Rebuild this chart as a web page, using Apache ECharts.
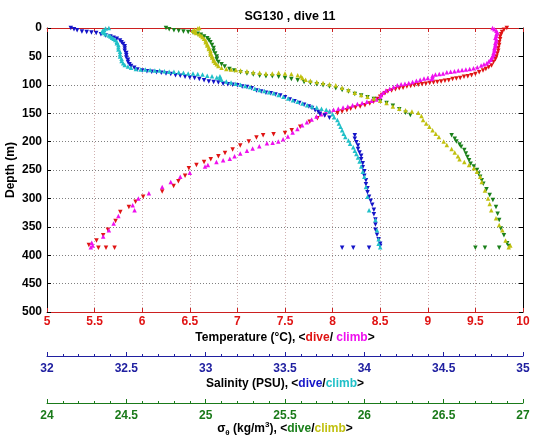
<!DOCTYPE html>
<html><head><meta charset="utf-8">
<script src="https://cdn.jsdelivr.net/npm/echarts@6/dist/echarts.min.js"></script>
<style>html,body{margin:0;padding:0;background:#fff}#c{width:535px;height:442px}</style>
</head><body><div id="c"></div>
<script>
// ---- data: [value, depth(m)] ----
const tempDive = [
[9.83,0],[9.80,3],[9.78,7],[9.77,11],[9.76,15],[9.76,20],[9.75,25],[9.75,30],[9.74,35],[9.74,40],[9.73,45],[9.72,50],[9.71,55],[9.69,60],[9.67,66],[9.64,69],[9.61,72],[9.58,75],[9.54,78],[9.50,81],[9.46,83],[9.42,85],[9.38,86],[9.34,88],[9.30,89],[9.26,90],[9.22,92],[9.18,93],[9.14,94],[9.10,95],[9.06,96],[9.02,97],[8.98,98],[8.94,99],[8.90,100],[8.86,101],[8.82,102],[8.78,103],[8.74,105],[8.70,106],[8.66,108],[8.62,110],[8.58,112],[8.55,115],[8.52,118],[8.50,121],[8.47,125],[8.43,130],[8.39,133],[8.34,136],[8.29,138],[8.24,140],[8.19,142],[8.15,145],[8.10,147],[8.05,150],
[7.92,153],[7.84,159],[7.76,165],[7.66,174],[7.57,180],[7.50,185],[7.38,187],[7.27,189],[7.20,193],[7.12,200],[7.03,207],[6.95,214],[6.87,220],[6.80,226],[6.72,231],[6.65,236],[6.57,241],[6.49,247],[6.45,260],[6.38,270],[6.33,278],[6.21,288],[6.01,297],[5.93,306],[5.86,315],[5.77,324],[5.72,340],[5.64,355],[5.59,365],[5.52,374],[5.44,382],[5.54,387],[5.62,387],[5.71,387]
];
const tempClimb = [
[9.68,0],[9.70,2],[9.72,5],[9.73,8],[9.72,11],[9.72,14],[9.71,17],[9.72,20],[9.72,23],[9.71,26],[9.71,29],[9.71,32],[9.70,35],[9.70,38],[9.70,41],[9.69,44],[9.69,47],[9.68,50],[9.67,53],[9.66,56],[9.64,59],[9.62,62],[9.59,64],[9.56,66],[9.52,69],[9.48,71],[9.44,72],[9.40,73],[9.36,74],[9.32,75],[9.28,76],[9.24,77],[9.20,78],[9.16,80],[9.12,81],[9.08,82],[9.05,84],[9.05,87],[9.04,90],[9.00,88],[8.96,89],[8.92,91],[8.88,93],[8.84,95],[8.80,97],[8.76,98],[8.72,99],[8.68,101],[8.64,104],[8.60,107],[8.56,110],[8.53,114],[8.51,118],[8.50,122],[8.46,126],[8.41,128],[8.36,130],[8.31,132],[8.26,134],[8.21,136],[8.16,138],[8.11,140],[8.06,142],[8.01,144],[7.97,146],
[7.93,148],[7.88,152],[7.83,156],[7.78,161],[7.73,166],[7.68,171],[7.63,178],[7.58,184],[7.53,191],[7.48,196],[7.43,200],[7.37,202],[7.31,203],[7.23,208],[7.16,212],[7.10,216],[7.03,221],[6.97,226],[6.92,230],[6.85,233],[6.78,236],[6.69,241],[6.66,244],[6.50,255],[6.40,262],[6.30,271],[6.21,280],[6.07,291],[5.96,300],[5.90,312],[5.92,321],[5.75,331],[5.70,344],[5.65,356],[5.59,367],[5.47,378],[5.48,383],[5.46,386]
];
const salDive = [
[32.15,0],[32.17,2],[32.19,4],[32.22,6],[32.25,7],[32.28,8],[32.31,9],[32.34,11],[32.37,13],[32.40,15],[32.42,17],[32.44,19],[32.46,22],[32.47,25],[32.48,28],[32.49,32],[32.49,36],[32.49,40],[32.50,44],[32.50,48],[32.50,52],[32.51,56],[32.51,60],[32.52,64],[32.53,67],[32.55,70],[32.57,73],[32.60,75],[32.63,76],[32.66,77],[32.69,78],[32.72,79],[32.75,80],[32.78,81],[32.81,83],[32.84,84],[32.87,86],[32.90,87],[32.93,88],[32.96,90],[32.99,92],[33.02,94],[33.05,95],[33.08,96],[33.11,98],[33.14,99],[33.17,100],[33.20,101],[33.23,103],[33.26,104],[33.29,106],[33.32,110],[33.35,112],[33.38,114],[33.41,115],[33.44,117],[33.47,119],[33.50,122],[33.53,126],[33.56,129],[33.59,132],[33.62,135],[33.65,138],[33.67,141],[33.69,145],[33.71,148],[33.72,151],[33.75,154],[33.78,158],
[33.94,189],[33.94,195],[33.95,201],[33.96,207],[33.96,213],[33.97,219],[33.98,225],[33.98,231],[33.99,238],[33.99,245],[34.00,252],[34.00,260],[34.01,268],[34.01,275],[34.02,282],[34.02,289],[34.03,297],[34.04,304],[34.05,311],[34.06,320],[34.06,328],[34.07,337],[34.07,346],[34.07,355],[34.08,364],[34.09,372],[34.10,380],[34.10,384],[33.86,387],[33.93,387],[34.03,387]
];
const salClimb = [
[32.39,0],[32.37,1],[32.36,3],[32.35,5],[32.35,7],[32.36,9],[32.37,11],[32.39,13],[32.40,15],[32.41,17],[32.42,19],[32.43,21],[32.44,24],[32.44,27],[32.45,30],[32.45,34],[32.45,38],[32.46,42],[32.46,46],[32.46,50],[32.47,54],[32.47,58],[32.48,62],[32.49,65],[32.51,68],[32.53,70],[32.56,72],[32.59,73],[32.62,73],[32.65,74],[32.68,75],[32.71,75],[32.74,76],[32.77,77],[32.80,77],[32.83,78],[32.86,79],[32.89,80],[32.92,80],[32.95,81],[32.98,82],[33.01,84],[33.04,85],[33.07,87],[33.09,85],[33.09,88],[33.10,91],[33.13,94],[33.16,96],[33.19,98],[33.22,100],[33.25,102],[33.28,104],[33.31,107],[33.34,109],[33.37,111],[33.40,113],[33.43,115],[33.46,118],[33.49,121],[33.52,124],[33.55,127],[33.58,130],[33.61,133],[33.64,136],[33.67,138],[33.70,140],[33.73,142],[33.76,144],[33.78,147],
[33.80,152],[33.81,157],[33.83,162],[33.84,168],[33.85,174],[33.86,180],[33.87,186],[33.88,192],[33.90,198],[33.91,204],[33.93,210],[33.94,216],[33.95,222],[33.96,228],[33.97,235],[33.98,244],[33.99,253],[34.00,262],[34.01,280],[34.02,297],[34.03,321],[34.07,338],[34.08,356],[34.09,372],[34.09,380],[34.10,386]
];
const sigDive = [
[24.75,0],[24.77,2],[24.80,4],[24.83,5],[24.86,6],[24.89,7],[24.92,8],[24.95,10],[24.97,12],[24.99,15],[25.01,18],[25.02,21],[25.03,25],[25.04,30],[25.05,35],[25.05,40],[25.06,45],[25.07,50],[25.07,55],[25.08,60],[25.10,64],[25.12,68],[25.15,72],[25.18,75],[25.22,78],[25.26,80],[25.30,82],[25.34,84],[25.38,85],[25.42,85],[25.46,86],[25.50,88],[25.54,90],[25.58,92],[25.62,95],[25.66,97],[25.70,99],[25.74,101],[25.78,103],[25.82,106],[25.86,109],[25.90,112],[25.94,116],[25.98,119],[26.02,122],[26.06,125],[26.10,129],[26.14,132],[26.18,137],[26.22,143],[26.26,149],[26.29,153],
[26.55,189],[26.57,195],[26.58,200],[26.60,205],[26.61,209],[26.63,215],[26.64,221],[26.65,227],[26.66,233],[26.67,239],[26.69,244],[26.71,250],[26.72,256],[26.73,262],[26.74,268],[26.75,274],[26.77,284],[26.79,294],[26.81,303],[26.83,315],[26.84,327],[26.85,338],[26.86,353],[26.88,365],[26.90,379],[26.91,384],[26.70,387],[26.76,387],[26.85,387]
];
const sigClimb = [
[24.96,0],[24.95,1],[24.93,3],[24.92,5],[24.93,7],[24.94,9],[24.96,11],[24.97,13],[24.98,16],[24.99,19],[25.00,22],[25.00,25],[25.01,28],[25.01,31],[25.02,34],[25.02,37],[25.03,40],[25.03,43],[25.03,46],[25.04,49],[25.04,52],[25.05,55],[25.05,58],[25.06,61],[25.07,64],[25.08,67],[25.10,70],[25.13,72],[25.16,73],[25.19,74],[25.22,75],[25.26,76],[25.30,78],[25.34,79],[25.38,80],[25.42,80],[25.46,79],[25.50,80],[25.54,81],[25.58,83],[25.60,85],[25.61,88],[25.63,91],[25.66,93],[25.70,95],[25.74,97],[25.78,99],[25.82,101],[25.86,105],[25.90,109],[25.94,114],[25.98,118],[26.02,121],[26.06,124],[26.10,128],[26.14,132],[26.18,138],[26.22,142],[26.26,145],[26.30,147],[26.34,149],[26.36,155],[26.37,162],[26.39,168],[26.41,174],[26.43,180],[26.45,186],[26.47,192],[26.50,200],[26.52,206],[26.55,213],[26.57,219],[26.59,226],[26.60,231],[26.63,236],[26.66,241],[26.69,247],[26.71,253],[26.73,262],[26.74,271],[26.76,286],[26.78,300],[26.79,310],[26.80,321],[26.83,335],[26.85,347],[26.87,356],[26.89,374],[26.91,386],[26.92,383]
];
// axis ranges
const tempRange = [5, 10], salRange = [32, 35], sigRange = [24, 27], depthRange = [0, 500];
const titleText = 'SG130 , dive 11';

const FONT = '"Liberation Sans", Arial, Helvetica, sans-serif';
const C = {red:'#e01414', mag:'#ee10ee', blue:'#1414c8', cyan:'#20c0c8', green:'#1a801a', yel:'#c0c010',
  redAx:'#cc2020', blueAx:'#2020a0', greenAx:'#1a7a1a'};
const base = {fontFamily: FONT, fontWeight: 'bold', fontSize: 12, color: '#000', lineHeight: 16, verticalAlign: 'middle'};
const tok = (c) => Object.assign({}, base, {color: c});

function bottomAxis(range, color, lblColor, offset, name, rich, margin, gap, extra) {
  return Object.assign({
    type: 'value', gridIndex: 0, position: 'bottom', offset: offset,
    min: range[0], max: range[1], interval: 0.5,
    axisLine: {show: true, onZero: false, lineStyle: {color: color, width: 1}},
    axisTick: {show: true, inside: true, length: 4, lineStyle: {color: color}},
    minorTick: {show: false},
    axisLabel: {show: true, color: lblColor, fontFamily: FONT, fontWeight: 'bold', fontSize: 12, margin: margin},
    splitLine: {show: false},
    name: name, nameLocation: 'middle', nameGap: gap, nameMoveOverlap: false,
    nameTextStyle: {rich: rich}
  }, extra || {});
}

const option = {
  animation: false,
  backgroundColor: '#fff',
  title: {text: titleText, left: 285, top: 5, textAlign: 'center',
    textStyle: {fontFamily: FONT, fontWeight: 'bold', fontSize: 12.5, color: '#000'}},
  grid: {left: 47, right: 12, top: 28, bottom: 130, containLabel: false, outerBoundsMode: 'none'},
  xAxis: [
    bottomAxis(tempRange, C.redAx, C.red, 0,
      '{k|Temperature (°C), <}{r|dive}{k|/ }{m|climb}{k|>}',
      {k: tok('#000'), r: tok(C.red), m: tok(C.mag)}, 4, 18,
      {splitLine: {show: true, lineStyle: {color: '#cfb0b0', type: [1, 2], width: 1}}}),
    {type: 'value', gridIndex: 0, position: 'top', min: tempRange[0], max: tempRange[1], interval: 0.5,
      axisLine: {show: true, onZero: false, lineStyle: {color: C.redAx}},
      axisTick: {show: true, inside: true, length: 4, lineStyle: {color: C.redAx}},
      axisLabel: {show: false}, splitLine: {show: false}},
    bottomAxis(salRange, C.blueAx, C.blueAx, 44,
      '{k|Salinity (PSU), <}{b|dive}{k|/}{c|climb}{k|>}',
      {k: tok('#000'), b: tok(C.blue), c: tok(C.cyan)}, 7, 20,
      {minorTick: {show: true, splitNumber: 5, length: 2, lineStyle: {color: C.blueAx}}}),
    bottomAxis(sigRange, C.greenAx, C.greenAx, 91,
      '{k|σ}{s|θ}{k| (kg/m}{p|3}{k|), <}{g|dive}{k|/}{y|climb}{k|>}',
      {k: tok('#000'), g: tok(C.green), y: tok(C.yel),
       s: Object.assign({}, base, {fontSize: 8, verticalAlign: 'bottom'}),
       p: Object.assign({}, base, {fontSize: 8, verticalAlign: 'top'})}, 7, 18,
      {minorTick: {show: true, splitNumber: 5, length: 2, lineStyle: {color: C.greenAx}}})
  ],
  yAxis: [
    {type: 'value', gridIndex: 0, position: 'left', inverse: true, min: depthRange[0], max: depthRange[1], interval: 50,
      axisLine: {show: true, onZero: false, lineStyle: {color: '#000'}},
      axisTick: {show: true, inside: true, length: 4, lineStyle: {color: '#000'}},
      axisLabel: {color: '#000', fontFamily: FONT, fontWeight: 'bold', fontSize: 12, margin: 5},
      splitLine: {show: true, lineStyle: {color: '#808080', type: [1, 2], width: 1}},
      name: 'Depth (m)', nameLocation: 'middle', nameGap: 30, nameMoveOverlap: false,
      nameTextStyle: {fontFamily: FONT, fontWeight: 'bold', fontSize: 12, color: '#000'}},
    {type: 'value', gridIndex: 0, position: 'right', inverse: true, min: depthRange[0], max: depthRange[1], interval: 50,
      axisLine: {show: true, onZero: false, lineStyle: {color: '#000'}},
      axisTick: {show: true, inside: true, length: 4, lineStyle: {color: '#000'}},
      axisLabel: {show: false}, splitLine: {show: false}}
  ],
  series: []
};

function sc(data, xi, color, down) {
  return {type: 'scatter', xAxisIndex: xi, yAxisIndex: 0, data: data, symbol: 'triangle',
    symbolSize: 4.5, symbolRotate: down ? 180 : 0, silent: true,
    itemStyle: {color: color, opacity: 1}};
}
option.series = [
  sc(tempDive, 0, C.red, true), sc(tempClimb, 0, C.mag, false),
  sc(salDive, 2, C.blue, true), sc(salClimb, 2, C.cyan, false),
  sc(sigDive, 3, C.green, true), sc(sigClimb, 3, C.yel, false)
];

const chart = echarts.init(document.getElementById('c'), null, {renderer: 'canvas'});
chart.setOption(option);
</script></body></html>
